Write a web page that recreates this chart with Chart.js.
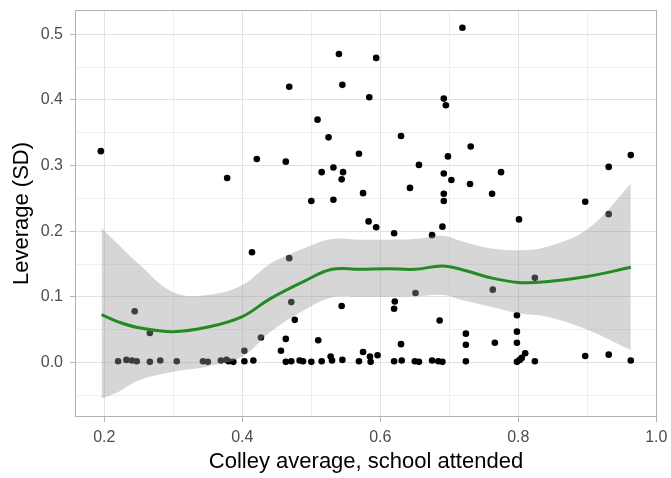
<!DOCTYPE html>
<html>
<head>
<meta charset="utf-8">
<script src="https://cdn.jsdelivr.net/npm/chart.js@4"></script>
<style>
  html, body { margin: 0; padding: 0; background: #fff; }
  #wrap { width: 671px; height: 478px; }
</style>
</head>
<body>
<div id="wrap"><canvas id="chart"></canvas></div>
<script>
// scatter: Colley average of school attended vs leverage (SD)
const colleyAvg = [
    0.195, 0.378, 0.421, 0.719, 0.540, 0.594, 0.468, 0.545, 0.584, 0.692,
    0.695, 0.509, 0.525, 0.630, 0.731, 0.569, 0.698, 0.463, 0.656, 0.532,
    0.515, 0.546, 0.544, 0.692, 0.703, 0.730, 0.643, 0.575, 0.692, 0.500,
    0.532, 0.692, 0.775, 0.762, 0.897, 0.931, 0.963, 0.414, 0.468, 0.583,
    0.594, 0.620, 0.675, 0.690, 0.801, 0.931, 0.763, 0.824, 0.651, 0.471,
    0.544, 0.621, 0.620, 0.244, 0.798, 0.476, 0.686, 0.266, 0.798, 0.724,
    0.427, 0.463, 0.510, 0.766, 0.798, 0.630, 0.724, 0.403, 0.456, 0.575,
    0.810, 0.931, 0.596, 0.897, 0.585, 0.528,
    // near-zero row
    0.220, 0.232, 0.240, 0.247, 0.266, 0.281, 0.305, 0.343, 0.350, 0.369,
    0.377, 0.380, 0.387, 0.403, 0.416, 0.463, 0.471, 0.483, 0.488, 0.500,
    0.515, 0.530, 0.545, 0.569, 0.586, 0.620, 0.631, 0.650, 0.656, 0.675,
    0.684, 0.690, 0.724, 0.798, 0.802, 0.805, 0.824, 0.963
];
const leverageSD = [
    0.322, 0.281, 0.310, 0.510, 0.470, 0.464, 0.420, 0.423, 0.404, 0.402,
    0.392, 0.370, 0.343, 0.345, 0.329, 0.318, 0.314, 0.306, 0.301, 0.297,
    0.290, 0.290, 0.279, 0.288, 0.278, 0.272, 0.266, 0.258, 0.257, 0.246,
    0.248, 0.246, 0.290, 0.257, 0.245, 0.298, 0.316, 0.168, 0.159, 0.215,
    0.206, 0.197, 0.194, 0.207, 0.218, 0.226, 0.111, 0.129, 0.106, 0.092,
    0.086, 0.093, 0.082, 0.078, 0.072, 0.065, 0.064, 0.045, 0.047, 0.044,
    0.038, 0.036, 0.034, 0.030, 0.030, 0.028, 0.027, 0.018, 0.018, 0.016,
    0.014, 0.012, 0.011, 0.010, 0.009, 0.009,
    0.002, 0.004, 0.003, 0.002, 0.001, 0.003, 0.002, 0.002, 0.001, 0.003,
    0.004, 0.002, 0.001, 0.002, 0.003, 0.001, 0.002, 0.003, 0.002, 0.001,
    0.002, 0.003, 0.004, 0.002, 0.001, 0.002, 0.003, 0.002, 0.001, 0.003,
    0.002, 0.001, 0.002, 0.001, 0.004, 0.007, 0.002, 0.003
];

// loess fit and its confidence band
const smoothX = [0.196, 0.22, 0.25, 0.30, 0.35, 0.40, 0.44, 0.49, 0.53, 0.57,
                 0.61, 0.65, 0.69, 0.72, 0.76, 0.80, 0.84, 0.90, 0.963];
const smoothFit = [0.073, 0.062, 0.053, 0.047, 0.054, 0.070, 0.097, 0.124, 0.142, 0.142,
                   0.143, 0.142, 0.147, 0.141, 0.129, 0.122, 0.123, 0.131, 0.145];
const bandHigh = [0.205, 0.180, 0.150, 0.107, 0.103, 0.118, 0.150, 0.174, 0.188, 0.187,
                  0.187, 0.188, 0.193, 0.184, 0.174, 0.171, 0.176, 0.203, 0.272];
const bandLow = [-0.055, -0.045, -0.027, -0.014, -0.006, 0.009, 0.046, 0.080, 0.099, 0.100,
                 0.100, 0.101, 0.103, 0.095, 0.085, 0.075, 0.070, 0.050, 0.019];

const xTitle = "Colley average, school attended";
const yTitle = "Leverage (SD)";

const pts = colleyAvg.map((x, i) => ({ x: x, y: leverageSD[i] }));
const along = arr => smoothX.map((x, i) => ({ x: x, y: arr[i] }));

const FONT = "'Liberation Sans', Arial, sans-serif";

// ggplot-ish panel border on top of everything
const panelBorder = {
    id: "panelBorder",
    afterDatasetsDraw(chart) {
        const a = chart.chartArea, c = chart.ctx;
        c.save();
        c.strokeStyle = "#B3B3B3";
        c.lineWidth = 1;
        c.strokeRect(a.left + 0.5, a.top + 0.5, a.right - a.left - 1, a.bottom - a.top - 1);
        c.restore();
    }
};

const isMajor = (v, per) => Math.round(v * per) % 2 === 0;

new Chart(document.getElementById("chart"), {
    type: "scatter",
    data: {
        datasets: [
            {
                label: "lower",
                data: along(bandLow),
                showLine: true,
                borderWidth: 0,
                borderColor: "rgba(0,0,0,0)",
                pointRadius: 0,
                fill: false,
                tension: 0.4,
                order: 1
            },
            {
                label: "upper",
                data: along(bandHigh),
                showLine: true,
                borderWidth: 0,
                borderColor: "rgba(0,0,0,0)",
                backgroundColor: "rgba(153,153,153,0.4)",
                pointRadius: 0,
                fill: "-1",
                tension: 0.4,
                order: 1
            },
            {
                label: "fit",
                data: along(smoothFit),
                showLine: true,
                borderColor: "#228B22",
                borderWidth: 3,
                pointRadius: 0,
                fill: false,
                tension: 0.4,
                order: 0
            },
            {
                label: "schools",
                data: pts,
                backgroundColor: "#000000",
                borderWidth: 0,
                pointRadius: 3.3,
                order: 2
            }
        ]
    },
    options: {
        responsive: true,
        maintainAspectRatio: false,
        animation: false,
        layout: { padding: { top: 10, right: 14, left: 0, bottom: 0 } },
        plugins: {
            legend: { display: false },
            tooltip: { enabled: false }
        },
        scales: {
            x: {
                type: "linear",
                min: 0.1575,
                max: 1.001,
                afterFit(s) {
                    s.height = 61;
                    s.paddingLeft = 0;
                    s.paddingRight = 0;
                },
                ticks: {
                    stepSize: 0.1,
                    includeBounds: false,
                    autoSkip: false,
                    maxRotation: 0,
                    padding: 6,
                    color: "#4D4D4D",
                    font: { family: FONT, size: 16 },
                    callback: v => isMajor(v, 10) ? v.toFixed(1) : ""
                },
                grid: {
                    color: c => isMajor(c.tick.value, 10) ? "#E2E2E2" : "#EFEFEF",
                    tickColor: c => isMajor(c.tick.value, 10) ? "#B3B3B3" : "rgba(0,0,0,0)",
                    tickLength: 5,
                    lineWidth: 1
                },
                border: { display: false },
                title: {
                    display: true,
                    text: xTitle,
                    color: "#000000",
                    font: { family: FONT, size: 22 },
                    padding: { top: 0, bottom: 3 }
                }
            },
            y: {
                type: "linear",
                min: -0.083,
                max: 0.537,
                afterFit(s) {
                    s.width = 75;
                    s.paddingTop = 0;
                    s.paddingBottom = 0;
                },
                ticks: {
                    stepSize: 0.05,
                    includeBounds: false,
                    autoSkip: false,
                    padding: 7,
                    color: "#4D4D4D",
                    font: { family: FONT, size: 16 },
                    callback: v => isMajor(v, 20) ? v.toFixed(1) : ""
                },
                grid: {
                    color: c => isMajor(c.tick.value, 20) ? "#E2E2E2" : "#EFEFEF",
                    tickColor: c => isMajor(c.tick.value, 20) ? "#B3B3B3" : "rgba(0,0,0,0)",
                    tickLength: 5,
                    lineWidth: 1
                },
                border: { display: false },
                title: {
                    display: true,
                    text: yTitle,
                    color: "#000000",
                    font: { family: FONT, size: 22 },
                    padding: { top: 9, bottom: 0 }
                }
            }
        }
    },
    plugins: [panelBorder]
});
</script>
</body>
</html>
